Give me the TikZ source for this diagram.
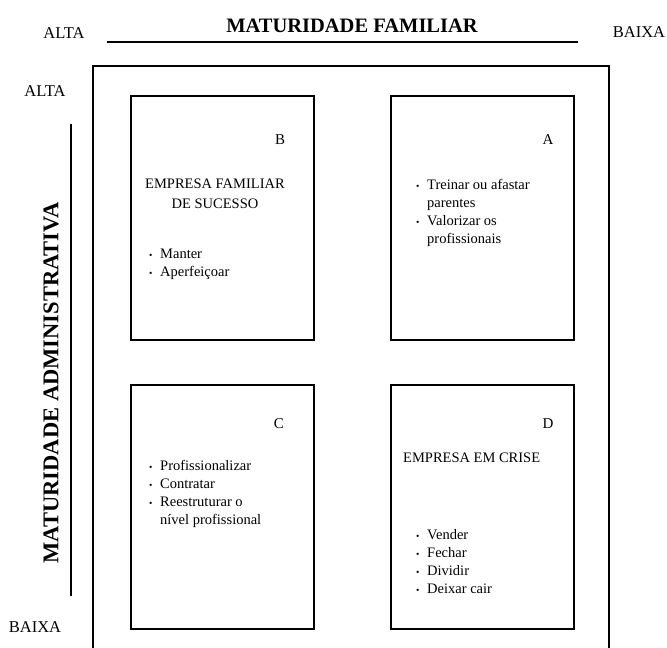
\documentclass[tikz,border=0pt]{standalone}
\usepackage{fontspec}
\setmainfont{Liberation Serif}
\newcommand{\blt}{\makebox[11pt][l]{\fontsize{9.5}{9.5}\selectfont\textbullet}}
\tikzset{
  axislabel/.style={font=\fontsize{16.5}{18}\selectfont, inner sep=0pt},
  axistitle/.style={font=\bfseries\fontsize{20.5}{24}\selectfont, inner sep=0pt},
  quadbox/.style={draw, line width=1.8pt, minimum width=183pt, minimum height=244pt,
                  anchor=north west, inner sep=0pt},
  quadletter/.style={font=\fontsize{15}{18}\selectfont, inner sep=0pt},
  quadtext/.style={font=\fontsize{14.5}{18.3}\selectfont, inner sep=0pt, anchor=base west},
}
\begin{document}
\begin{tikzpicture}[x=1pt, y=-1pt]
    \useasboundingbox (0,0) rectangle (667,648);
    % eixo horizontal
    \node[axislabel] (altaTop) at (64,33) {ALTA};
    \node[axistitle] (tituloFam) at (352,26) {MATURIDADE FAMILIAR};
    \node[axislabel] (baixaTop) at (639,32) {BAIXA};
    \draw[line width=2.8pt] (107,42) -- (578,42);
    % eixo vertical
    \node[axislabel] (altaLeft) at (45,91) {ALTA};
    \node[axistitle, font=\bfseries\fontsize{22.5}{26}\selectfont, rotate=90]
      (tituloAdm) at (51,383) {MATURIDADE ADMINISTRATIVA};
    \node[axislabel] (baixaLeft) at (35,627) {BAIXA};
    \draw[line width=2.8pt] (71,124) -- (71,596);
    % moldura
    \draw[line width=2.8pt] (93,648) -- (93,66) -- (609,66) -- (609,648);
    % quadrantes
    \node[quadbox] (qB) at (130,95) {};
    \node[quadbox] (qA) at (390,95) {};
    \node[quadbox] (qC) at (130,384) {};
    \node[quadbox] (qD) at (390,384) {};
    \node[quadletter] (letB) at (280,140) {B};
    \node[quadletter] (letA) at (548,140) {A};
    \node[quadletter] (letC) at (279,424) {C};
    \node[quadletter] (letD) at (548,424) {D};
    % textos
    \node[quadtext, anchor=base] (titB) at (215,188)
      {\begin{tabular}[t]{@{}c@{}}EMPRESA FAMILIAR\\[1.7pt] DE SUCESSO\end{tabular}};
    \node[quadtext] (listB) at (149,258)
      {\begin{tabular}[t]{@{}l@{}}\blt Manter\\ \blt Aperfeiçoar\end{tabular}};
    \node[quadtext] (listA) at (416,189)
      {\begin{tabular}[t]{@{}l@{}}\blt Treinar ou afastar\\ \hspace*{11pt}parentes\\
       \blt Valorizar os\\ \hspace*{11pt}profissionais\end{tabular}};
    \node[quadtext] (listC) at (149,470)
      {\begin{tabular}[t]{@{}l@{}}\blt Profissionalizar\\ \blt Contratar\\
       \blt Reestruturar o\\ \hspace*{11pt}nível profissional\end{tabular}};
    \node[quadtext] (titD) at (403,462) {EMPRESA EM CRISE};
    \node[quadtext] (listD) at (416,539)
      {\begin{tabular}[t]{@{}l@{}}\blt Vender\\ \blt Fechar\\ \blt Dividir\\
       \blt Deixar cair\end{tabular}};
\end{tikzpicture}
\end{document}
